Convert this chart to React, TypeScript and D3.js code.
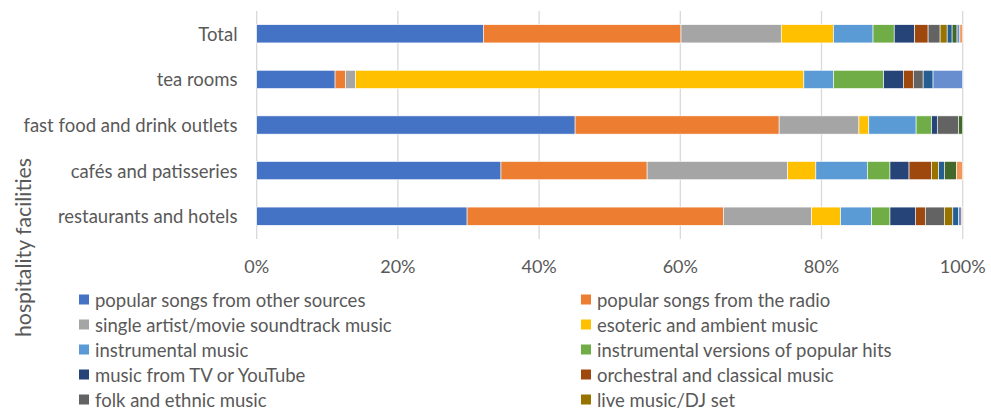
import React from "react";
import * as d3 from "d3";

const categories = [
  "Total",
  "tea rooms",
  "fast food and drink outlets",
  "cafés and patisseries",
  "restaurants and hotels",
];

const seriesNames = [
  "popular songs from other sources",
  "popular songs from the radio",
  "single artist/movie soundtrack music",
  "esoteric and ambient music",
  "instrumental music",
  "instrumental versions of popular hits",
  "music from TV or YouTube",
  "orchestral and classical music",
  "folk and ethnic music",
  "live music/DJ set",
  "series 11",
  "series 12",
  "series 13",
  "series 14",
];

// values per series, in category order: Total, tea rooms, fast food, cafés, restaurants
const popularOther = [32.1, 11.1, 45.1, 34.6, 29.8];
const popularRadio = [28.0, 1.5, 28.9, 20.7, 36.3];
const singleArtist = [14.2, 1.4, 11.3, 19.9, 12.5];
const esoteric = [7.4, 63.5, 1.4, 4.0, 4.1];
const instrumental = [5.6, 4.2, 6.7, 7.3, 4.4];
const instrVersions = [3.0, 7.1, 2.2, 3.2, 2.6];
const tvYoutube = [2.9, 2.8, 0.8, 2.7, 3.6];
const orchestral = [1.9, 1.4, 0, 3.2, 1.4];
const folk = [1.7, 1.4, 3.0, 0, 2.7];
const liveDj = [1.0, 0, 0, 1.0, 1.2];
const series11 = [0.7, 1.4, 0, 0.8, 0.8];
const series12 = [0.7, 0, 0.6, 1.7, 0];
const series13 = [0.4, 4.2, 0, 0, 0.4];
const series14 = [0.4, 0, 0, 0.9, 0.2];

const seriesValues = [
  popularOther, popularRadio, singleArtist, esoteric, instrumental, instrVersions,
  tvYoutube, orchestral, folk, liveDj, series11, series12, series13, series14,
];

const colors = [
  "#4472C4", "#ED7D31", "#A5A5A5", "#FFC000", "#5B9BD5", "#70AD47",
  "#264478", "#9E480E", "#636363", "#997300", "#255E91", "#43682B",
  "#698ED0", "#F1975A",
];

const xTicks = [0, 0.2, 0.4, 0.6, 0.8, 1];
const legendCount = 10;

const FONT = "Lato, 'Open Sans', sans-serif";
const TEXT = "#595959";

export default function App() {
  const W = 991;
  const H = 410;
  const left = 256.7;
  const right = 962.7;
  const top = 11;
  const bottom = 239;

  const x = d3.scaleLinear().domain([0, 1]).range([left, right]);
  const y = d3.scaleBand().domain(categories).range([top, bottom]).paddingInner(0.6).paddingOuter(0.3);

  const rows = categories.map((c, i) => {
    const obj: Record<string, any> = { cat: c };
    const tot = d3.sum(seriesValues, (s) => s[i]);
    seriesNames.forEach((n, j) => (obj[n] = seriesValues[j][i] / tot));
    return obj;
  });
  const stacked = d3.stack().keys(seriesNames)(rows as any);
  const fmt = d3.format(".0%");

  return (
    <svg width={W} height={H} style={{ position: "absolute", left: 0, top: 0 }} fontFamily={FONT}>
      <rect width={W} height={H} fill="#fff" />
      {xTicks.map((t) => (
        <line key={t} x1={x(t)} x2={x(t)} y1={top} y2={bottom} stroke="#D9D9D9" strokeWidth={1.3} />
      ))}
      {stacked.map((layer, j) => (
        <g key={j} fill={colors[j]}>
          {layer.map((d, i) => {
            const w = x(d[1]) - x(d[0]);
            if (w <= 0.01) return null;
            return (
              <rect
                key={i}
                x={x(d[0])}
                y={y(categories[i])}
                width={w}
                height={y.bandwidth()}
                stroke="#fff"
                strokeWidth={0.6}
              />
            );
          })}
        </g>
      ))}
      {categories.map((c) => (
        <text
          key={c}
          x={237.5}
          y={(y(c) as number) + y.bandwidth() / 2}
          textAnchor="end"
          dominantBaseline="central"
          fontSize={18.5}
          fill={TEXT}
        >
          {c}
        </text>
      ))}
      {xTicks.map((t) => (
        <text key={t} x={x(t)} y={266} textAnchor="middle" dominantBaseline="central" fontSize={18} fill={TEXT}>
          {fmt(t)}
        </text>
      ))}
      <text
        transform={`translate(22.5,247.5) rotate(-90)`}
        textAnchor="middle"
        dominantBaseline="central"
        fontSize={21.3}
        fill={TEXT}
      >
        hospitality facilities
      </text>
      {seriesNames.slice(0, legendCount).map((n, j) => {
        const col = j % 2;
        const row = Math.floor(j / 2);
        const lx = col === 0 ? 79 : 581;
        const ly = 299.5 + row * 25;
        return (
          <g key={n}>
            <rect x={lx} y={ly - 5} width={10} height={10} fill={colors[j]} />
            <text x={lx + 16} y={ly} dominantBaseline="central" fontSize={18.5} fill={TEXT}>
              {n}
            </text>
          </g>
        );
      })}
    </svg>
  );
}
